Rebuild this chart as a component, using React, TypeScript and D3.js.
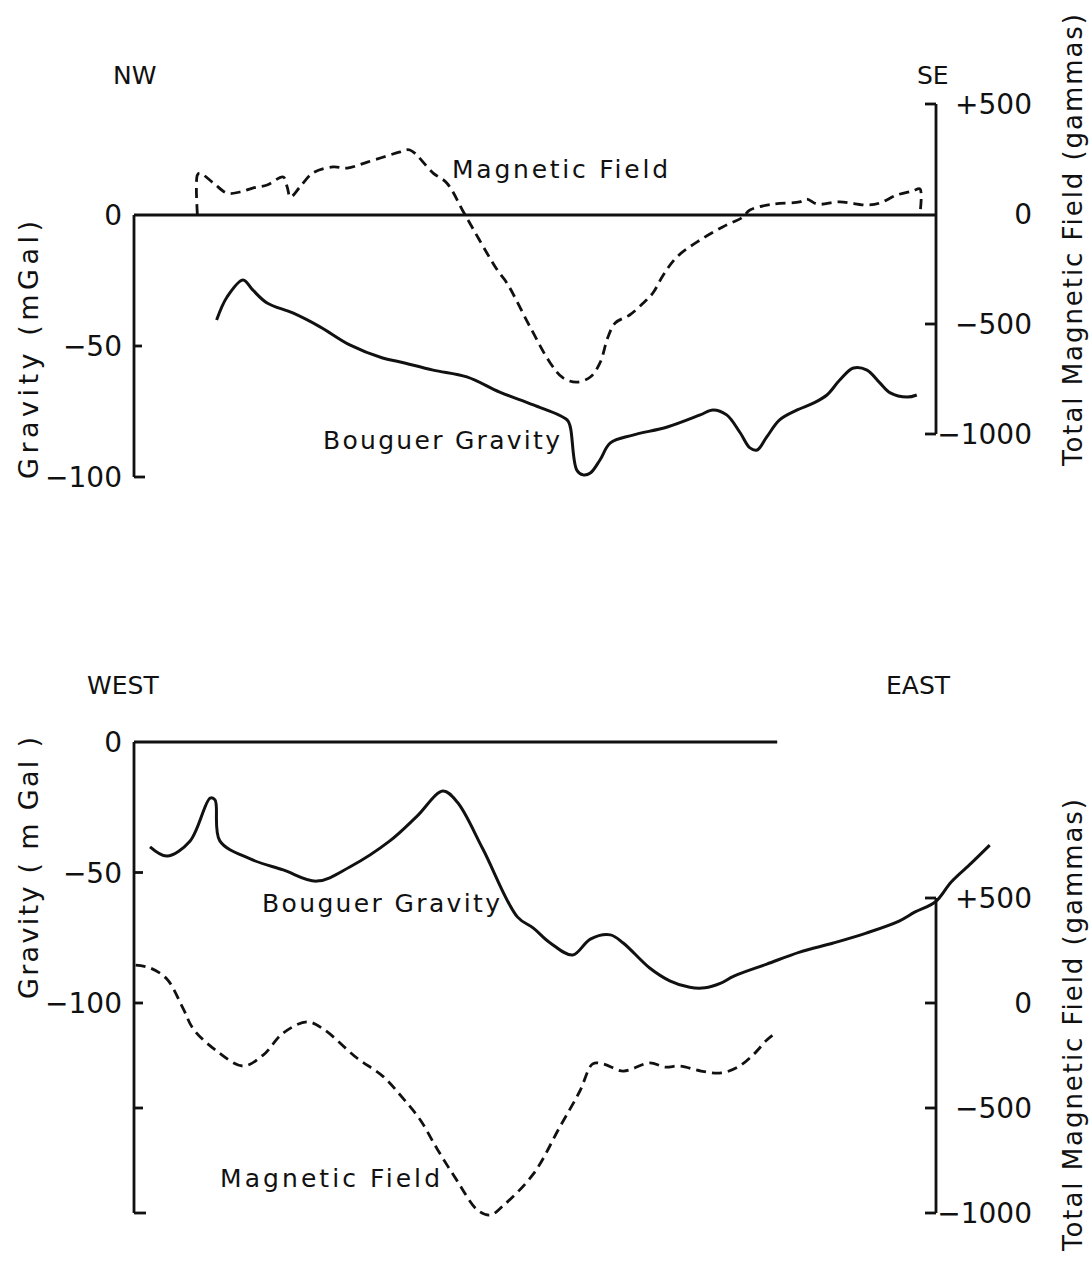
import React from 'react';
import * as d3 from 'd3';

// distance along profile (0 = left axis, 100 = right axis)
const topMagDist = [7.9, 7.9, 8.2, 9.9, 11.6, 13.2, 14.8, 16.6, 18.6, 19.1, 19.5, 20.7, 22.3, 24.8, 26.6, 29.1, 33.2, 34.4, 37.3, 39.0, 41.3, 45.3, 46.5, 49.4, 51.9, 53.5, 55.2, 56.9, 58.1, 59.1, 60.0, 61.8, 63.5, 64.7, 66.0, 67.7, 70.6, 73.4, 75.9, 76.8, 79.7, 83.0, 83.9, 85.2, 88.0, 91.4, 93.0, 95.1, 97.1, 98.0, 98.0];
const topMagGammas = [0, 177, 186, 141, 95, 100, 118, 132, 168, 123, 77, 123, 186, 214, 209, 236, 282, 291, 186, 141, -5, -255, -314, -514, -677, -745, -764, -741, -677, -559, -495, -459, -405, -359, -277, -195, -118, -59, -14, 18, 45, 55, 68, 45, 55, 41, 50, 86, 105, 114, 0];

const topGravDist = [10.3, 11.6, 13.6, 14.8, 16.6, 19.8, 23.2, 26.9, 31.0, 33.2, 37.3, 41.5, 45.6, 49.8, 54.0, 54.4, 55.2, 56.0, 56.9, 58.1, 59.4, 62.2, 66.5, 70.6, 72.2, 73.9, 75.6, 76.8, 77.7, 78.9, 80.5, 82.7, 84.7, 86.4, 88.0, 89.7, 91.4, 93.0, 94.3, 96.4, 97.6];
const topGravMgal = [-40.1, -31.3, -24.8, -28.6, -33.6, -37.4, -42.7, -49.6, -54.6, -56.1, -59.2, -61.8, -67.6, -72.5, -78.2, -80.9, -97.3, -99.2, -98.5, -93.5, -87.0, -84.0, -80.9, -76.3, -74.4, -76.3, -83.2, -88.9, -89.7, -84.7, -78.2, -74.4, -71.8, -68.7, -63.0, -58.4, -59.2, -64.1, -67.9, -69.5, -68.7];

const botGravDist = [2.0, 4.1, 7.0, 9.5, 10.1, 10.7, 14.5, 18.6, 22.8, 26.9, 31.9, 35.3, 38.5, 40.3, 43.5, 47.8, 49.8, 51.9, 54.7, 56.9, 59.4, 61.0, 64.3, 66.8, 69.3, 71.2, 73.1, 74.8, 78.9, 83.0, 87.2, 91.3, 95.4, 97.4, 99.9, 101.9, 104.4, 106.7];
const botGravMgal = [-40.2, -43.7, -37.9, -21.5, -22.2, -37.9, -44.8, -49.0, -53.3, -47.9, -37.9, -28.4, -18.8, -23.0, -41.0, -67.0, -71.3, -77.0, -81.6, -75.5, -73.9, -77.0, -86.6, -91.5, -94.0, -94.2, -92.5, -89.7, -85.1, -80.5, -77.0, -73.2, -68.6, -65.1, -61.3, -53.6, -46.4, -39.5];

const botMagDist = [0.2, 2.0, 4.1, 6.1, 7.4, 10.3, 13.6, 16.1, 18.6, 21.6, 23.6, 27.8, 31.0, 33.5, 35.7, 37.8, 40.3, 42.8, 44.4, 46.0, 49.8, 53.1, 55.6, 57.2, 58.5, 61.0, 64.3, 66.2, 68.1, 70.7, 73.2, 75.3, 77.3, 78.9, 79.8];
const botMagGammas = [180, 167, 114, -24, -124, -228, -300, -248, -143, -90, -124, -262, -348, -452, -557, -695, -847, -985, -1010, -966, -814, -590, -419, -290, -290, -324, -285, -305, -300, -324, -333, -305, -243, -176, -148];

const gravTicks = [0, -50, -100];
const magTicks = [500, 0, -500, -1000];

const FONT = '"DejaVu Sans", "Liberation Sans", sans-serif';
const INK = '#111';

const fmt = (v: number) => (v > 0 ? '+' + v : v < 0 ? '\u2212' + Math.abs(v) : '0');

function App() {
  const x = d3.scaleLinear().domain([0, 100]).range([134, 936]);

  const topGrav = d3.scaleLinear().domain([0, -100]).range([215, 477]);
  const topMag = d3.scaleLinear().domain([500, -1000]).range([104, 434]);
  const botGrav = d3.scaleLinear().domain([0, -100]).range([742, 1003]);
  const botMag = d3.scaleLinear().domain([500, -1000]).range([898, 1213]);

  const curve = d3.curveCatmullRom.alpha(0.5);
  const line = (xs: number[], ys: number[], yScale: d3.ScaleLinear<number, number>) =>
    d3.line<number>().x((d, i) => x(xs[i])).y((d) => yScale(d)).curve(curve)(ys) || '';

  const solid = { fill: 'none', stroke: INK, strokeWidth: 3, strokeLinejoin: 'round' as const };
  const dashed = { ...solid, strokeWidth: 2.8, strokeDasharray: '10 6' };
  const axis = { fill: 'none', stroke: INK, strokeWidth: 2.8 };
  const tickFont = { fontFamily: FONT, fontSize: 28, fill: INK };
  const lblFont = { fontFamily: FONT, fontSize: 25, fill: INK };

  const xL = x(0);
  const xR = x(100);

  return (
    <svg width={1092} height={1262} style={{ position: 'absolute', left: 0, top: 0, background: '#fff' }}>
      {/* ---------- top panel ---------- */}
      <g>
        <line x1={xL} x2={xR} y1={topGrav(0)} y2={topGrav(0)} {...axis} />
        <line x1={xL} x2={xL} y1={topGrav(0)} y2={topGrav(-100)} {...axis} />
        {gravTicks.slice(1).map((t) => (
          <line key={t} x1={xL} x2={xL + (t === -100 ? 11 : 8)} y1={topGrav(t)} y2={topGrav(t)} {...axis} />
        ))}
        {gravTicks.map((t) => (
          <text key={t} x={122} y={topGrav(t) + 10} textAnchor="end" {...tickFont}>{fmt(t)}</text>
        ))}
        <line x1={xR} x2={xR} y1={topMag(500)} y2={topMag(-1000)} {...axis} />
        {magTicks.filter((t) => t !== 0).map((t) => (
          <line key={t} x1={xR - 11} x2={xR} y1={topMag(t)} y2={topMag(t)} {...axis} />
        ))}
        {magTicks.map((t) => (
          <text key={t} x={1032} y={topMag(t) + 10} textAnchor="end" {...tickFont}>{fmt(t)}</text>
        ))}
        <path d={line(topMagDist, topMagGammas, topMag)} {...dashed} />
        <path d={line(topGravDist, topGravMgal, topGrav)} {...solid} />
        <text x={113} y={84} {...lblFont}>NW</text>
        <text x={917} y={84} {...lblFont}>SE</text>
        <text x={452} y={178} {...lblFont} textLength={216} lengthAdjust="spacing">Magnetic Field</text>
        <text x={323} y={449} {...lblFont} textLength={237} lengthAdjust="spacing">Bouguer Gravity</text>
        <text transform="translate(38,350) rotate(-90)" textAnchor="middle" {...lblFont} fontSize={27}
          textLength={258} lengthAdjust="spacing">Gravity (mGal)</text>
        <text transform="translate(1082,240) rotate(-90)" textAnchor="middle" {...lblFont} fontSize={26}
          textLength={452} lengthAdjust="spacing">Total Magnetic Field (gammas)</text>
      </g>

      {/* ---------- bottom panel ---------- */}
      <g>
        <line x1={xL} x2={x(80.2)} y1={botGrav(0)} y2={botGrav(0)} {...axis} />
        <line x1={xL} x2={xL} y1={botGrav(0)} y2={botMag(-1000)} {...axis} />
        {gravTicks.slice(1).map((t) => (
          <line key={t} x1={xL} x2={xL + 9} y1={botGrav(t)} y2={botGrav(t)} {...axis} />
        ))}
        {[-500, -1000].map((t) => (
          <line key={t} x1={xL} x2={xL + (t === -1000 ? 12 : 9)} y1={botMag(t)} y2={botMag(t)} {...axis} />
        ))}
        {gravTicks.map((t) => (
          <text key={t} x={122} y={botGrav(t) + 10} textAnchor="end" {...tickFont}>{fmt(t)}</text>
        ))}
        <line x1={xR} x2={xR} y1={botMag(500)} y2={botMag(-1000)} {...axis} />
        {magTicks.map((t) => (
          <line key={t} x1={xR - 11} x2={xR} y1={botMag(t)} y2={botMag(t)} {...axis} />
        ))}
        {magTicks.map((t) => (
          <text key={t} x={1032} y={botMag(t) + 10} textAnchor="end" {...tickFont}>{fmt(t)}</text>
        ))}
        <path d={line(botGravDist, botGravMgal, botGrav)} {...solid} />
        <path d={line(botMagDist, botMagGammas, botMag)} {...dashed} />
        <text x={87} y={694} {...lblFont}>WEST</text>
        <text x={886} y={694} {...lblFont}>EAST</text>
        <text x={262} y={912} {...lblFont} textLength={238} lengthAdjust="spacing">Bouguer Gravity</text>
        <text x={220} y={1187} {...lblFont} textLength={220} lengthAdjust="spacing">Magnetic Field</text>
        <text transform="translate(38,868) rotate(-90)" textAnchor="middle" {...lblFont} fontSize={27}
          textLength={262} lengthAdjust="spacing">Gravity ( m Gal )</text>
        <text transform="translate(1082,1025) rotate(-90)" textAnchor="middle" {...lblFont} fontSize={26}
          textLength={452} lengthAdjust="spacing">Total Magnetic Field (gammas)</text>
      </g>
    </svg>
  );
}

export default App;
